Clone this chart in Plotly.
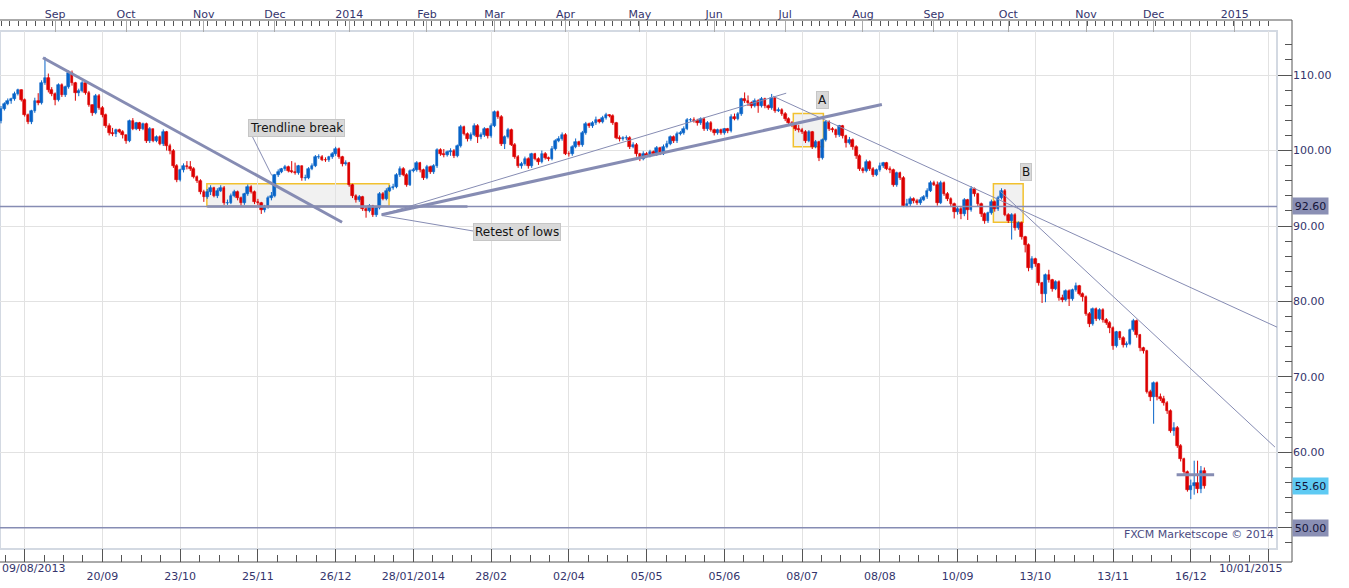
import pandas as pd
import plotly.graph_objects as go

# USOil daily candles 09/08/2013 - 22/12/2014
first_open = 103.9
close = [
    105.5, 106.2, 106.5, 106.8, 107.5, 108.0, 106.7, 104.7, 103.8, 105.2,
    106.6, 106.3, 108.9, 109.6, 108.0, 107.5, 106.7, 108.7, 107.3, 108.4,
    110.3, 108.9, 107.6, 107.9, 108.9, 107.6, 106.0, 105.0, 107.2, 105.7,
    104.7, 103.3, 102.3, 102.2, 102.7, 102.5, 102.0, 101.3, 103.9, 102.9,
    103.6, 102.9, 103.5, 101.2, 102.8, 101.3, 101.8, 100.9, 102.5, 100.6,
    100.0, 98.0, 96.1, 97.4, 98.0, 97.8, 97.6, 96.5, 96.0, 94.5,
    93.9, 94.5, 95.0, 94.0, 94.7, 95.1, 93.0, 93.1, 94.0, 94.5,
    93.7, 93.0, 94.2, 95.2, 94.5, 93.2, 93.0, 92.1, 92.5, 93.7,
    94.0, 96.7, 97.2, 97.5, 97.8, 97.3, 97.2, 97.0, 97.9, 96.3,
    96.4, 97.6, 98.0, 99.1, 99.2, 98.8, 98.7, 99.1, 99.5, 100.2,
    99.1, 98.2, 98.4, 95.4, 94.0, 93.4, 93.8, 92.3, 92.0, 92.6,
    91.5, 92.4, 94.3, 93.6, 94.7, 95.0, 95.2, 96.7, 97.6, 96.8,
    95.5, 97.3, 97.4, 98.3, 97.4, 96.4, 97.8, 97.1, 97.9, 100.1,
    99.6, 99.4, 99.8, 100.0, 99.3, 100.6, 103.1, 102.2, 101.5, 102.1,
    103.3, 101.8, 102.0, 102.8, 101.9, 103.3, 105.1, 104.5, 100.9, 101.8,
    102.7, 100.8, 99.2, 98.0, 98.2, 98.9, 97.9, 99.5, 98.9, 98.5,
    99.6, 99.0, 98.9, 100.2, 101.3, 101.5, 102.1, 99.6, 99.5, 100.5,
    101.1, 100.7, 102.3, 103.5, 103.2, 103.6, 104.0, 103.8, 104.3, 104.7,
    104.6, 103.6, 101.7, 101.5, 101.6, 101.7, 100.5, 100.8, 99.5, 98.9,
    99.6, 99.3, 99.8, 99.5, 100.3, 99.6, 100.5, 100.9, 101.8, 101.2,
    102.2, 102.3, 102.9, 104.0, 104.1, 103.9, 103.6, 104.2, 102.8, 103.7,
    102.7, 102.3, 102.7, 102.3, 102.8, 102.6, 104.5, 104.2, 104.8, 106.8,
    106.6, 106.3, 105.9, 106.6, 105.9, 106.8, 105.9, 105.6, 106.9, 105.3,
    105.4, 104.9, 104.2, 103.6, 103.4, 102.9, 102.7, 102.5, 101.3, 102.4,
    100.5, 101.1, 99.0, 101.4, 103.8, 102.9, 102.7, 102.0, 103.2, 101.9,
    101.0, 101.4, 100.5, 99.3, 97.6, 97.3, 98.5, 97.6, 96.8, 97.4,
    97.9, 98.3, 97.6, 97.4, 95.4, 97.0, 96.4, 92.7, 92.9, 93.6,
    93.3, 93.0, 93.5, 93.8, 94.7, 95.7, 95.5, 93.1, 95.7, 94.3,
    93.6, 92.9, 91.8, 92.3, 91.6, 93.4, 92.1, 94.9, 94.2, 92.9,
    91.6, 90.7, 91.7, 93.2, 92.2, 93.7, 94.6, 91.5, 90.7, 91.5,
    89.7, 90.4, 88.5, 87.5, 84.4, 85.6, 84.9, 82.4, 81.0, 83.5,
    82.8, 81.7, 82.6, 80.4, 80.2, 81.4, 80.3, 81.5, 82.0, 81.0,
    80.6, 78.4, 77.0, 79.0, 77.7, 78.9, 77.5, 77.2, 76.5, 74.1,
    75.9, 75.2, 74.2, 74.4, 76.2, 77.4, 75.5, 73.8, 73.4, 68.0,
    67.3, 69.2, 67.3, 67.1, 66.6, 65.5, 62.9, 63.3, 60.9, 59.1,
    57.4, 55.0, 55.6, 55.9, 55.1, 57.6, 55.6,
]
high = [
    105.9, 106.4, 106.9, 107.0, 107.8, 108.2, 108.1, 106.9, 104.9, 105.4,
    107.0, 107.6, 109.3, 112.4, 110.2, 108.4, 107.7, 108.9, 108.9, 108.6,
    110.6, 110.6, 109.1, 108.2, 109.2, 109.1, 107.9, 106.1, 107.5, 107.5,
    105.9, 104.9, 103.6, 103.0, 102.9, 102.9, 102.7, 102.1, 104.1, 104.3,
    103.8, 103.8, 103.7, 103.7, 103.1, 102.9, 102.0, 102.0, 102.8, 102.6,
    100.9, 100.2, 98.2, 97.6, 98.3, 98.6, 98.6, 97.8, 96.7, 96.2,
    94.8, 94.9, 95.4, 95.2, 95.0, 95.4, 95.3, 93.5, 94.3, 94.8,
    94.7, 93.9, 94.4, 95.5, 95.4, 94.7, 93.6, 93.2, 92.8, 94.0,
    94.5, 96.9, 97.5, 97.7, 98.1, 98.0, 98.6, 98.4, 98.1, 98.0,
    96.8, 97.8, 98.3, 99.4, 99.5, 99.4, 99.1, 99.3, 99.8, 100.5,
    100.4, 99.3, 98.7, 98.5, 95.6, 94.2, 94.1, 94.0, 92.6, 92.9,
    92.8, 92.6, 94.5, 94.5, 95.0, 95.4, 95.6, 97.0, 97.9, 97.8,
    97.0, 97.5, 97.7, 98.6, 98.5, 97.6, 98.1, 98.0, 98.2, 100.3,
    100.3, 100.2, 100.0, 100.3, 100.2, 100.8, 103.4, 103.3, 102.4, 102.4,
    103.6, 103.5, 102.4, 103.1, 103.0, 103.6, 105.3, 105.3, 104.7, 102.0,
    103.0, 102.9, 101.0, 99.4, 98.5, 99.2, 99.1, 99.7, 99.7, 99.1,
    100.0, 99.8, 99.2, 100.6, 101.5, 101.9, 102.4, 102.3, 99.9, 100.7,
    101.6, 101.3, 102.6, 103.8, 103.7, 103.9, 104.5, 104.2, 104.6, 105.0,
    104.8, 104.8, 103.8, 102.0, 101.9, 102.0, 101.9, 101.1, 101.0, 99.7,
    99.9, 99.8, 100.1, 100.0, 100.6, 100.5, 100.8, 101.3, 102.0, 102.0,
    102.5, 102.6, 103.2, 104.3, 104.3, 104.4, 104.2, 104.4, 104.4, 103.9,
    103.9, 102.9, 102.9, 102.9, 103.0, 103.0, 104.8, 104.9, 105.1, 107.0,
    107.7, 107.3, 106.5, 106.9, 106.8, 107.1, 107.0, 106.1, 107.5, 107.1,
    105.7, 105.6, 105.1, 104.4, 103.9, 103.6, 103.4, 103.0, 102.7, 102.7,
    102.6, 101.4, 101.3, 101.6, 104.0, 104.0, 103.1, 102.9, 103.4, 103.4,
    102.1, 101.8, 101.6, 100.7, 99.5, 97.8, 98.8, 98.7, 97.8, 97.6,
    98.4, 98.5, 98.5, 97.9, 97.6, 97.2, 97.2, 96.6, 93.6, 93.9,
    93.8, 93.6, 93.8, 94.1, 95.0, 96.0, 96.0, 95.9, 96.0, 95.9,
    94.5, 93.8, 93.1, 92.6, 92.5, 93.7, 93.6, 95.3, 95.1, 94.4,
    93.1, 91.8, 91.9, 93.5, 93.4, 94.0, 95.0, 94.9, 91.7, 91.7,
    91.7, 90.6, 90.6, 88.7, 87.7, 86.0, 85.8, 85.1, 82.6, 83.7,
    84.2, 83.0, 82.8, 82.8, 80.9, 81.6, 81.6, 81.7, 82.5, 82.2,
    81.2, 80.8, 78.6, 79.2, 79.2, 79.1, 79.1, 77.8, 77.4, 76.7,
    76.1, 76.1, 75.4, 74.7, 76.4, 77.7, 77.6, 75.7, 74.0, 73.6,
    68.3, 69.4, 69.4, 67.8, 67.5, 66.8, 65.7, 64.0, 63.5, 61.1,
    59.3, 57.6, 56.4, 58.9, 58.9, 58.2, 58.0,
]
low = [
    103.6, 105.3, 106.0, 106.2, 106.6, 107.3, 106.5, 104.5, 103.5, 103.5,
    105.0, 106.0, 106.1, 108.7, 107.7, 107.2, 106.0, 106.5, 107.1, 107.1,
    108.2, 108.6, 106.6, 107.2, 107.7, 107.4, 105.8, 104.6, 104.8, 105.4,
    104.4, 103.0, 102.0, 101.9, 101.8, 102.3, 101.6, 100.9, 101.1, 102.7,
    102.7, 102.6, 102.7, 101.0, 101.0, 101.1, 101.1, 100.7, 100.6, 100.0,
    99.5, 97.7, 95.8, 95.9, 97.1, 97.5, 97.3, 96.3, 95.7, 94.2,
    93.2, 93.6, 94.1, 93.8, 93.7, 94.5, 92.8, 92.8, 92.9, 93.8,
    93.4, 92.7, 92.8, 94.0, 94.3, 92.9, 92.7, 91.6, 91.8, 92.3,
    93.4, 93.8, 96.5, 97.0, 97.3, 97.1, 97.0, 96.8, 96.8, 96.0,
    96.0, 96.2, 97.4, 97.8, 98.9, 98.6, 98.5, 98.5, 98.9, 99.3,
    98.9, 97.9, 98.0, 95.2, 93.7, 93.1, 93.2, 92.0, 91.1, 91.8,
    91.2, 91.2, 92.2, 93.4, 93.4, 94.5, 94.8, 95.0, 96.5, 96.6,
    95.2, 95.3, 97.1, 97.2, 97.1, 96.1, 96.2, 96.9, 96.9, 97.7,
    99.3, 99.1, 99.2, 99.3, 99.0, 99.1, 100.4, 102.0, 101.2, 101.3,
    101.9, 101.0, 101.5, 101.8, 101.6, 101.7, 103.1, 104.2, 100.6, 100.2,
    101.6, 100.6, 98.9, 97.7, 97.6, 98.0, 97.6, 97.7, 98.7, 98.1,
    98.3, 98.8, 98.6, 98.7, 100.0, 101.1, 101.3, 99.4, 99.2, 99.3,
    100.3, 100.5, 100.5, 102.1, 103.0, 103.0, 103.4, 103.6, 103.6, 104.1,
    104.4, 103.4, 101.5, 101.2, 101.3, 101.4, 100.2, 100.3, 99.2, 98.6,
    98.7, 99.1, 99.1, 99.3, 99.3, 99.4, 99.4, 100.3, 100.7, 101.0,
    101.0, 102.0, 102.1, 102.7, 103.8, 103.7, 103.3, 103.4, 102.6, 102.6,
    102.5, 102.0, 102.1, 102.1, 102.1, 102.3, 102.4, 104.0, 104.0, 104.6,
    106.3, 105.9, 105.6, 105.7, 105.0, 105.7, 105.6, 105.4, 105.4, 105.0,
    105.1, 104.6, 103.9, 103.3, 103.1, 102.6, 102.4, 102.2, 101.0, 101.1,
    100.2, 100.3, 98.6, 98.8, 101.2, 102.6, 102.4, 101.7, 101.8, 101.6,
    100.4, 100.8, 100.1, 98.9, 97.3, 97.0, 97.1, 97.3, 96.5, 96.6,
    97.2, 97.7, 97.4, 97.0, 95.2, 95.2, 96.1, 92.5, 92.5, 92.6,
    93.0, 92.8, 92.8, 93.3, 93.6, 94.5, 95.3, 92.7, 92.9, 94.0,
    93.3, 92.5, 91.0, 91.5, 90.9, 91.3, 90.8, 91.9, 93.9, 92.6,
    91.2, 90.3, 90.4, 91.5, 91.9, 92.0, 93.5, 91.3, 90.4, 88.2,
    89.4, 89.5, 88.2, 86.5, 84.0, 84.2, 84.6, 82.1, 79.8, 79.9,
    82.5, 81.3, 81.5, 80.1, 79.9, 80.0, 79.4, 80.1, 81.3, 80.8,
    80.0, 78.1, 76.6, 76.8, 77.4, 77.5, 77.2, 76.9, 75.8, 73.6,
    73.9, 74.9, 73.9, 73.9, 74.2, 76.0, 75.2, 73.4, 73.1, 67.8,
    66.8, 63.8, 66.9, 66.8, 66.2, 65.1, 62.6, 62.2, 60.6, 58.8,
    57.1, 54.8, 53.8, 54.4, 54.6, 54.6, 55.2,
]

# axis labels
grid_dates = ["2013-08-20", "2013-09-20", "2013-10-23", "2013-11-25", "2013-12-26",
              "2014-01-28", "2014-02-28", "2014-04-02", "2014-05-05", "2014-06-05",
              "2014-07-08", "2014-08-08", "2014-09-10", "2014-10-13", "2014-11-13",
              "2014-12-16", "2015-01-16"]
grid_labels = ["09/08/2013", "20/09", "23/10", "25/11", "26/12", "28/01/2014", "28/02",
               "02/04", "05/05", "05/06", "08/07", "08/08", "10/09", "13/10", "13/11",
               "16/12", "10/01/2015"]
month_labels = ["Sep", "Oct", "Nov", "Dec", "2014", "Feb", "Mar", "Apr", "May", "Jun",
                "Jul", "Aug", "Sep", "Oct", "Nov", "Dec", "2015"]

# drawings on the chart: (bar, price) pairs
support_level = 92.60
floor_level = 50.00
last_price = 55.60
thick_lines = [(12.4, 112.3, 100.9, 90.5), (112.6, 91.5, 260.6, 106.1)]
thin_lines = [(112.6, 91.5, 232.3, 107.6), (228.4, 107.2, 377.5, 76.6), (295.6, 94.6, 376.9, 60.7)]
pointer_lines = [(74.2, 102.0, 80.1, 96.7), (112.6, 91.4, 140.2, 89.3)]
zones = [(60.9, 92.6, 114.8, 95.6), (234.4, 100.5, 243.3, 104.9), (293.6, 90.5, 302.4, 95.6)]
support_segment = (61.0, 138.0)
last_segment = (347.8, 358.9, 57.05)
notes = [("Trendline break", 87.3, 102.96), ("Retest of lows", 152.7, 89.15),
         ("A", 243.0, 106.7), ("B", 303.3, 97.1)]

# the feed skips new year's day, so the 2015 marker sits on the next session
dates = pd.bdate_range("2013-08-09", "2015-02-27")
session_dates = dates[dates != pd.Timestamp("2015-01-01")]
n = len(close)
open_ = [first_open] + close[:-1]

grid_idx = [dates.get_loc(pd.Timestamp(d)) for d in grid_dates]
months = session_dates.to_period("M")
month_idx = [i + (1 if session_dates[i] > pd.Timestamp("2015-01-01") else 0)
             for i in range(1, len(session_dates)) if months[i] != months[i - 1]][:len(month_labels)]

TXT = "#34346c"
SLATE = "#868cb3"
UP, DOWN = "#0864c8", "#dc0000"
XMAX = 1277 / 1292
YLO, YHI = 13 / 542, 531 / 542

fig = go.Figure()

# candles: wick lines + body bars, split by direction
for is_up, col in [(True, UP), (False, DOWN)]:
    idx = [i for i in range(n) if (close[i] >= open_[i]) == is_up]
    wx, wy = [], []
    for i in idx:
        wx += [i, i, None]
        wy += [low[i], high[i], None]
    fig.add_trace(go.Scatter(x=wx, y=wy, mode="lines", line=dict(color=col, width=1),
                             hoverinfo="skip"))
    fig.add_trace(go.Bar(x=idx, base=[min(open_[i], close[i]) for i in idx],
                         y=[abs(close[i] - open_[i]) for i in idx], width=0.78,
                         marker=dict(color=col, line=dict(color=col, width=0.6)),
                         hoverinfo="skip"))

# orange month markers on the top scale
fig.add_trace(go.Scatter(
    x=month_idx, y=[116.9] * len(month_idx), mode="markers", xaxis="x2", yaxis="y",
    marker=dict(symbol="triangle-down", size=9, color="#f4a21e"),
    cliponaxis=False, hoverinfo="skip"))

shapes = []
# plot frame
shapes.append(dict(type="rect", xref="paper", yref="paper", x0=0, x1=XMAX, y0=YLO, y1=YHI,
                   line=dict(color="#d3d9e2", width=2), layer="below"))
# axis lines
for x0, y0, x1, y1 in [(0, 1, 1, 1), (0, 0, 1, 0), (1, 0, 1, 1)]:
    shapes.append(dict(type="line", xref="paper", yref="paper", x0=x0, y0=y0, x1=x1, y1=y1,
                       line=dict(color="#555555", width=1)))
for z in zones:
    shapes.append(dict(type="rect", xref="x", yref="y", x0=z[0], y0=z[1], x1=z[2], y1=z[3],
                       fillcolor="#f1f1f1", line=dict(color="#f2c12e", width=1.5), layer="below"))
for lvl in (support_level, floor_level):
    shapes.append(dict(type="line", xref="paper", yref="y", x0=0, x1=XMAX, y0=lvl, y1=lvl,
                       line=dict(color=SLATE, width=1.5)))
shapes.append(dict(type="line", xref="x", yref="y", x0=support_segment[0], x1=support_segment[1],
                   y0=support_level, y1=support_level, line=dict(color=SLATE, width=2.5)))
shapes.append(dict(type="line", xref="x", yref="y", x0=last_segment[0], x1=last_segment[1],
                   y0=last_segment[2], y1=last_segment[2], line=dict(color=SLATE, width=3)))
for x0, y0, x1, y1 in thick_lines:
    shapes.append(dict(type="line", xref="x", yref="y", x0=x0, y0=y0, x1=x1, y1=y1,
                       line=dict(color=SLATE, width=3)))
for x0, y0, x1, y1 in thin_lines + pointer_lines:
    shapes.append(dict(type="line", xref="x", yref="y", x0=x0, y0=y0, x1=x1, y1=y1,
                       line=dict(color=SLATE, width=1)))

annotations = []
for text, bx, py in notes:
    annotations.append(dict(x=bx, y=py, xref="x", yref="y", text=text, showarrow=False,
                            xanchor="center", font=dict(size=12, color="#151515"),
                            bgcolor="#d9d9d9", bordercolor="#c6c6c6", borderwidth=1, borderpad=1))
for val, bg in [(support_level, "#8a8fb4"), (last_price, "#5ecaf3"), (floor_level, "#8a8fb4")]:
    annotations.append(dict(x=1.0, y=val, xref="paper", yref="y", xanchor="left",
                            text=f"{val:.2f}", showarrow=False, width=33, height=14,
                            font=dict(size=11, color="#15153a"), bgcolor=bg, borderpad=1))
annotations.append(dict(x=XMAX - 0.001, y=(562 - 543) / 542, xref="paper", yref="paper",
                        xanchor="right", text="FXCM Marketscope © 2014", showarrow=False,
                        font=dict(size=11, color="#4b4b82")))
annotations.append(dict(x=0, y=-15 / 542, xref="paper", yref="paper", xanchor="left",
                        text=grid_labels[0], showarrow=False, font=dict(size=11, color=TXT)))
annotations.append(dict(x=1250 / 1292, y=-15 / 542, xref="paper", yref="paper", xanchor="center",
                        text=grid_labels[-1], showarrow=False, font=dict(size=11, color=TXT)))

fig.update_layout(
    width=1349, height=588,
    margin=dict(l=0, r=57, t=20, b=26),
    paper_bgcolor="white", plot_bgcolor="white",
    showlegend=False, barmode="overlay", bargap=0,
    font=dict(family="DejaVu Sans", size=11, color=TXT),
    xaxis=dict(domain=[0, XMAX], range=[-0.3, 377.5], anchor="free", position=0,
               tickmode="array", tickvals=grid_idx, ticktext=[""] + grid_labels[1:-1] + [""],
               ticks="inside", ticklen=13, tickcolor="#555555", ticklabelstandoff=6,
               showgrid=True, gridcolor="#e2e2e2", gridwidth=1,
               minor=dict(tickmode="linear", tick0=grid_idx[0] + 5.75, dtick=5.75,
                          ticks="inside", ticklen=7, tickcolor="#555555", showgrid=False),
               showline=False, zeroline=False),
    xaxis2=dict(overlaying="x", matches="x", side="top", anchor="free", position=1,
                tickmode="array", tickvals=month_idx, ticktext=month_labels,
                ticks="inside", ticklen=11, tickcolor="#aaaaaa",
                minor=dict(tickmode="linear", tick0=0, dtick=2.55, ticks="inside",
                           ticklen=5, tickcolor="#555555", showgrid=False),
                showgrid=False, showline=False, zeroline=False),
    yaxis=dict(domain=[YLO, YHI], range=[47.2, 115.84], side="right", anchor="free", position=1,
               tick0=0, dtick=10, tickformat=".2f", ticks="inside", ticklen=14,
               tickcolor="#555555", showgrid=True, gridcolor="#e2e2e2",
               minor=dict(dtick=2, ticks="inside", ticklen=7, tickcolor="#555555", showgrid=False),
               showline=False, zeroline=False),
    shapes=shapes,
    annotations=annotations,
)

# the page body keeps its default 8px margin otherwise
fig.write_html("out.html", config={"displayModeBar": False},
               post_script="document.body.style.margin='0px';")
